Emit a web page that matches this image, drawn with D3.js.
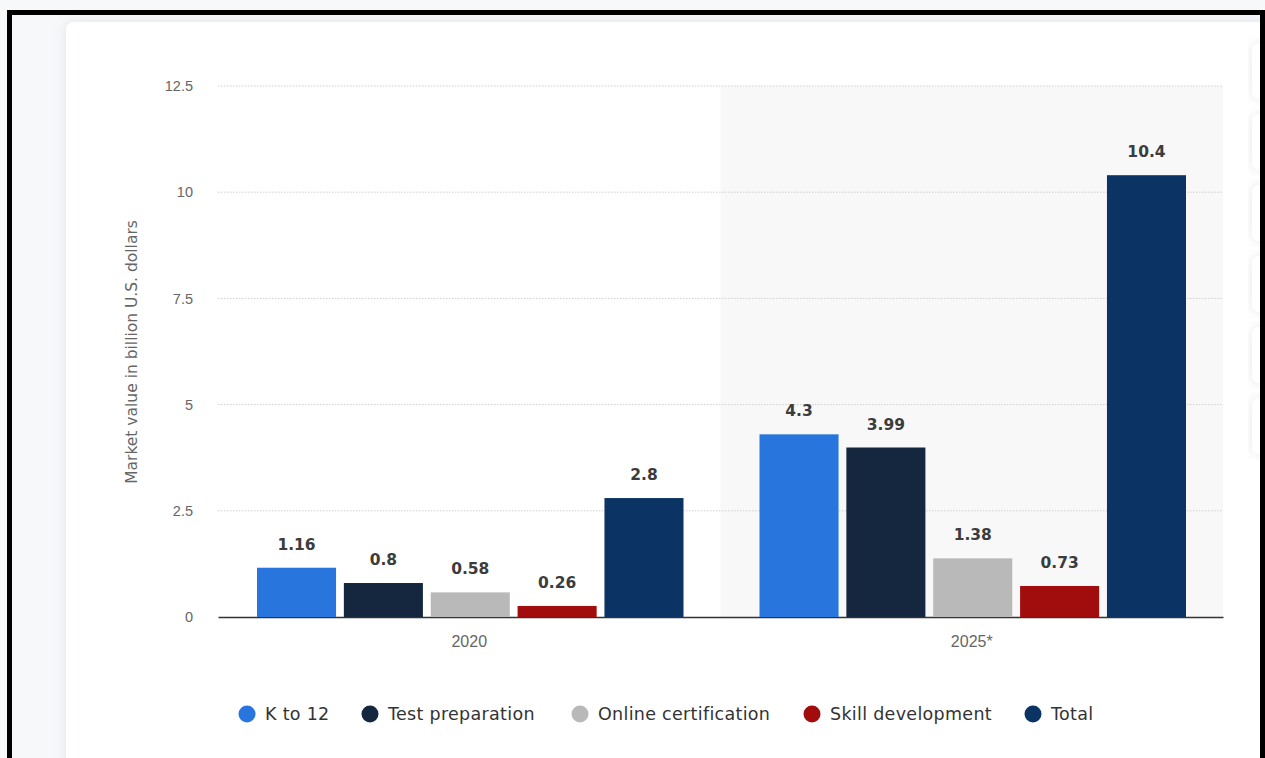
<!DOCTYPE html>
<html>
<head>
<meta charset="utf-8">
<script src="https://cdn.jsdelivr.net/npm/d3@7"></script>
<style>
  body { margin: 0; background: #fff; }
  svg { display: block; font-family: "DejaVu Sans", Verdana, sans-serif; }
</style>
</head>
<body>
<div id="chart"></div>
<script>
// data
var years = ['2020', '2025*'];
var segments = ['K to 12', 'Test preparation', 'Online certification', 'Skill development', 'Total'];
var values2020 = [1.16, 0.8, 0.58, 0.26, 2.8];
var values2025 = [4.3, 3.99, 1.38, 0.73, 10.4];
var yTicks = [0, 2.5, 5, 7.5, 10, 12.5];
var colors = ['#2876dd', '#14273e', '#b9b9b9', '#a10c0c', '#0b3364'];

var sWidth = 1265;
var sHeight = 758;

var marg = { top: 86, bottom: 141, left: 218, right: 42 };
var width = sWidth - marg.left - marg.right;
var height = sHeight - marg.top - marg.bottom;

var svg = d3.select('#chart')
    .append('svg')
    .attr('width', sWidth)
    .attr('height', sHeight);

var defs = svg.append('defs');
var shadow = defs.append('filter').attr('id', 'shadow')
    .attr('x', '-10%').attr('y', '-10%').attr('width', '120%').attr('height', '120%');
shadow.append('feDropShadow').attr('dx', 0).attr('dy', 0)
    .attr('stdDeviation', 6).attr('flood-color', '#9aa3b5').attr('flood-opacity', 0.25);

// page background + card
svg.append('rect').attr('x', 0).attr('y', 0).attr('width', sWidth).attr('height', sHeight).attr('fill', '#f7f8fa');
svg.append('rect').attr('x', 66).attr('y', 22).attr('width', 1230).attr('height', 800)
    .attr('rx', 8).attr('fill', '#fff').attr('filter', 'url(#shadow)');
// right side tabs
var tabY = [43, 114, 185, 256, 327, 398];
svg.selectAll('rect.tab').data(tabY).enter().append('rect')
    .attr('class', 'tab')
    .attr('x', 1252).attr('y', d => d)
    .attr('width', 40).attr('height', 56).attr('rx', 7)
    .attr('fill', '#fff').attr('filter', 'url(#shadow)');

var chartsGroup = svg.append('g')
    .attr('transform', `translate(${marg.left}, ${marg.top})`);

var x0 = d3.scaleBand().domain(years).range([0, width]).paddingInner(0).paddingOuter(0);
var x1 = d3.scaleBand().domain(segments).range([39, x0.bandwidth() - 37]).paddingInner(0.09);
var y = d3.scaleLinear().domain([0, 12.5]).range([height, 0]);

// highlighted forecast band
chartsGroup.append('rect')
    .attr('x', x0('2025*')).attr('y', 0)
    .attr('width', x0.bandwidth()).attr('height', height)
    .attr('fill', '#f8f8f9');

// gridlines
chartsGroup.selectAll('line.grid').data(yTicks.slice(1)).enter().append('line')
    .attr('class', 'grid')
    .attr('x1', 0).attr('x2', width)
    .attr('y1', d => y(d)).attr('y2', d => y(d))
    .attr('stroke', '#cfcfcf').attr('stroke-width', 1)
    .attr('stroke-dasharray', '1.5,1.5');

var leftAxis = d3.axisLeft(y).tickValues(yTicks).tickSize(0).tickPadding(25)
    .tickFormat(d => d);
var yAxis = chartsGroup.append('g').call(leftAxis);
yAxis.select('.domain').remove();
yAxis.selectAll('text').attr('fill', '#666').style('font-size', '14.5px');

var bottomAxis = d3.axisBottom(x0).tickSize(0).tickPadding(19);
var xAxis = chartsGroup.append('g')
    .attr('transform', `translate(0, ${height})`)
    .call(bottomAxis);
xAxis.select('.domain').attr('stroke', '#333').attr('stroke-width', 1.5);
xAxis.selectAll('text').attr('fill', '#666').style('font-size', '16px');

var series = [values2020, values2025];
var groups = chartsGroup.selectAll('g.year').data(years).enter().append('g')
    .attr('class', 'year')
    .attr('transform', d => `translate(${x0(d)}, 0)`);

groups.each(function(yr, i) {
    var rows = segments.map((s, j) => ({ seg: s, v: series[i][j], c: colors[j] }));
    var g = d3.select(this);
    g.selectAll('rect').data(rows).enter().append('rect')
        .attr('x', d => x1(d.seg))
        .attr('y', d => y(d.v))
        .attr('width', x1.bandwidth())
        .attr('height', d => height - y(d.v))
        .attr('fill', d => d.c);
    g.selectAll('text').data(rows).enter().append('text')
        .attr('x', d => x1(d.seg) + x1.bandwidth() / 2)
        .attr('y', d => y(d.v) - 18)
        .attr('text-anchor', 'middle')
        .attr('fill', '#3c3c3c')
        .style('font-size', '15.5px')
        .style('font-weight', '600')
        .text(d => d.v);
});

// y axis title
svg.append('text')
    .attr('transform', 'translate(137, 352) rotate(-90)')
    .attr('text-anchor', 'middle')
    .attr('fill', '#666')
    .style('font-size', '15.5px')
    .text('Market value in billion U.S. dollars');

// legend
var legendX = [247, 370, 580, 812, 1033];
var legend = svg.selectAll('g.legend').data(segments).enter().append('g')
    .attr('class', 'legend')
    .attr('transform', (d, i) => `translate(${legendX[i]}, 714)`);
legend.append('circle').attr('r', 8.5).attr('fill', (d, i) => colors[i]);
legend.append('text')
    .attr('x', 18).attr('y', 6)
    .attr('fill', '#333')
    .style('font-size', '17.5px')
    .style('letter-spacing', '0.3px')
    .text(d => d);

// outer black frame
svg.append('path')
    .attr('d', 'M9.5,770 V12.5 H1262.5 V770')
    .attr('fill', 'none').attr('stroke', '#000').attr('stroke-width', 5);
</script>
</body>
</html>
